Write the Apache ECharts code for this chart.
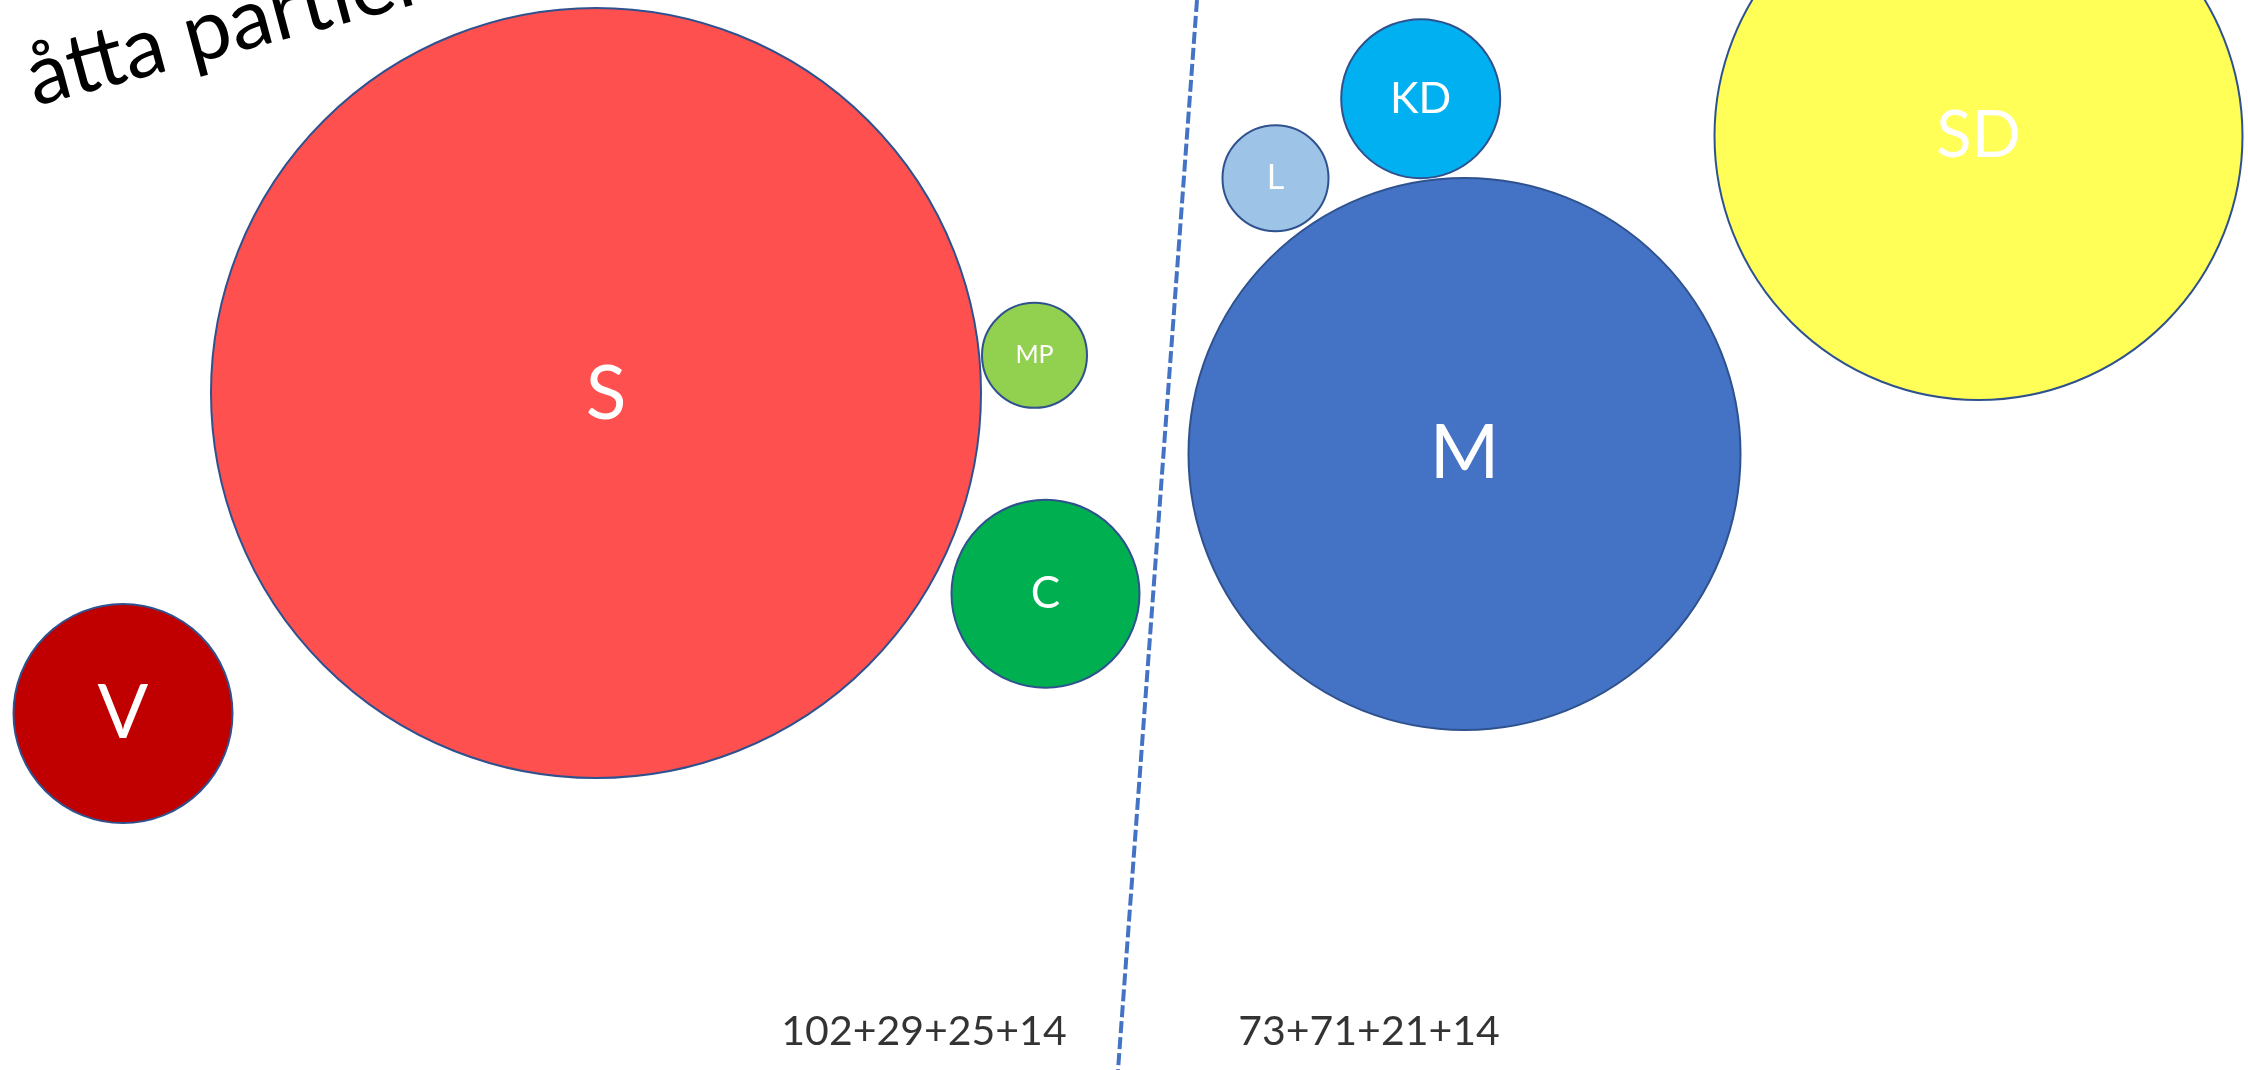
<!DOCTYPE html>
<html>
<head>
<meta charset="utf-8">
<script src="https://cdn.jsdelivr.net/npm/echarts@6/dist/echarts.min.js"></script>
<style>
  html, body { margin: 0; padding: 0; background: #ffffff; }
  #chart { width: 2248px; height: 1070px; }
</style>
</head>
<body>
<div id="chart"></div>
<script>
// ---- data (canvas units: x right, y down) ----
const parties   = ['S', 'V', 'MP', 'C', 'M', 'L', 'KD', 'SD'];
const partyX    = [596, 123, 1034.5, 1045.5, 1464.5, 1275.5, 1420.7, 1978.5];
const partyY    = [393, 713.5, 355.3, 593.7, 454, 178.3, 98.7, 136];
const partyR    = [385, 109.5, 52.5, 94, 276, 53, 79.5, 264];
const partyColors = ['#FF5050', '#C00000', '#92D050', '#00B050', '#4472C4', '#9DC3E6', '#00B0F0', '#FFFF57'];
const labelSizes  = [75, 75, 25, 44, 75, 34, 43, 65];

const dividerX = [1197, 1118];
const dividerY = [0, 1070];

const sumTexts = ['102+29+25+14', '73+71+21+14'];
const sumX     = [924, 1369];
const sumY     = [1032, 1032];

const titleText = 'åtta partier';

// ---- chart ----
const chart = echarts.init(document.getElementById('chart'), null, { renderer: 'canvas' });

const labelOffsets = { S: [10, 2] };

const bubbleData = parties.map((p, i) => ({
  name: p,
  value: [partyX[i], partyY[i]],
  symbolSize: partyR[i] * 2,
  itemStyle: { color: partyColors[i] },
  label: { fontSize: labelSizes[i], offset: labelOffsets[p] || [0, 0] }
}));

const option = {
  animation: false,
  backgroundColor: '#ffffff',
  grid: { left: 0, right: 0, top: 0, bottom: 0, containLabel: false },
  xAxis: { type: 'value', min: 0, max: 2248, show: false },
  yAxis: { type: 'value', min: 0, max: 1070, inverse: true, show: false },
  series: [
    {
      type: 'line',
      data: dividerX.map((x, i) => [x, dividerY[i]]),
      symbol: 'none',
      silent: true,
      clip: false,
      lineStyle: { color: '#4472C4', width: 4, type: [12, 4] },
      z: 1
    },
    {
      type: 'scatter',
      data: bubbleData,
      clip: false,
      itemStyle: { borderColor: '#2F528F', borderWidth: 2, opacity: 1 },
      label: {
        show: true,
        position: 'inside',
        formatter: '{b}',
        color: '#ffffff',
        fontFamily: 'Lato',
        fontWeight: 'normal'
      },
      emphasis: { disabled: true },
      z: 2
    },
    {
      type: 'scatter',
      data: sumTexts.map((t, i) => ({ name: t, value: [sumX[i], sumY[i]] })),
      symbolSize: 1,
      itemStyle: { color: 'rgba(0,0,0,0)' },
      clip: false,
      label: {
        show: true,
        position: 'inside',
        formatter: '{b}',
        color: '#000000',
        textBorderWidth: 0,
        fontFamily: 'Lato',
        fontSize: 41
      },
      emphasis: { disabled: true },
      z: 3
    }
  ],
  graphic: [
    {
      type: 'text',
      x: 28,
      y: 80,
      rotation: 15 * Math.PI / 180,
      style: {
        text: titleText,
        fill: '#000000',
        font: '84px Lato',
        textAlign: 'left',
        textVerticalAlign: 'middle'
      },
      z: 10
    }
  ]
};

chart.setOption(option);
</script>
</body>
</html>
